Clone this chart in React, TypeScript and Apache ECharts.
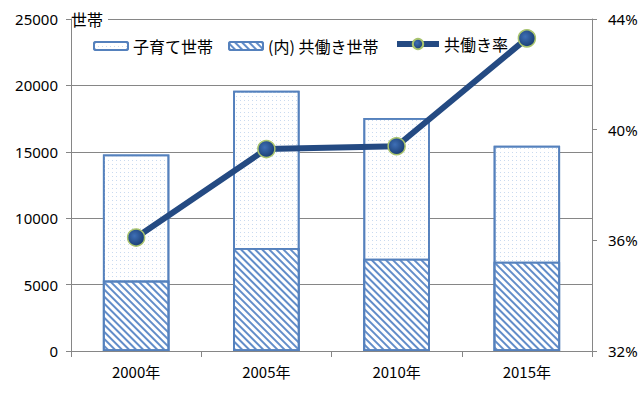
import React, { useEffect, useRef } from "react";
import * as echarts from "echarts";

const categories = ["2000年", "2005年", "2010年", "2015年"];
const childHouseholds = [14800, 19600, 17550, 15450];
const dualIncome = [5300, 7760, 6950, 6720];
const dualRate = [36.1, 39.3, 39.4, 43.3];
const leftTicks = { min: 0, max: 25000, interval: 5000 };
const rightTicks = { min: 32, max: 44, interval: 4 };

const FONT = "'Noto Sans CJK JP', 'Noto Sans', sans-serif";

export default function App() {
  const ref = useRef<HTMLDivElement>(null);
  useEffect(() => {
    document.body.style.margin = "0";
    const chart = echarts.init(ref.current!, undefined, { renderer: "svg" });
    chart.setOption({
      animation: false,
      textStyle: { fontFamily: FONT },
      grid: { left: 71, right: 50, top: 19, bottom: 44 },
      legend: [
        {
          left: 88,
          top: 33,
          itemWidth: 34,
          itemHeight: 8,
          itemGap: 15,
          textStyle: { fontSize: 16, color: "#000", fontFamily: FONT },
          data: [{ name: "子育て世帯" }, { name: "(内) 共働き世帯" }],
        },
        {
          left: 389,
          top: 31,
          itemWidth: 42,
          itemHeight: 13,
          lineStyle: { width: 6 },
          textStyle: { fontSize: 16, color: "#000", fontFamily: FONT },
          data: [{ name: "共働き率" }],
        },
      ],
      xAxis: {
        type: "category",
        data: categories,
        boundaryGap: true,
        axisLine: { lineStyle: { color: "#868686", width: 1 } },
        axisTick: { show: true, length: 6, lineStyle: { color: "#868686" } },
        axisLabel: { color: "#000", fontSize: 15, margin: 13, fontFamily: FONT },
      },
      yAxis: [
        {
          type: "value",
          min: leftTicks.min,
          max: leftTicks.max,
          interval: leftTicks.interval,
          name: "世帯",
          nameLocation: "end",
          nameGap: 0,
          nameTextStyle: {
            fontSize: 16,
            color: "#000",
            align: "left",
            verticalAlign: "middle",
            backgroundColor: "#fff",
            padding: [2, 5, 2, 0],
            fontFamily: FONT,
          },
          axisLine: { show: true, lineStyle: { color: "#868686", width: 1 } },
          axisTick: { show: true, length: 5, lineStyle: { color: "#868686" } },
          axisLabel: {
            color: "#000",
            fontSize: 15,
            margin: 13,
            formatter: (v: number) => String(v),
            fontFamily: "'Noto Sans', sans-serif",
          },
          splitLine: { show: true, lineStyle: { color: "#868686", width: 1 } },
        },
        {
          type: "value",
          position: "right",
          min: rightTicks.min,
          max: rightTicks.max,
          interval: rightTicks.interval,
          axisLine: { show: true, lineStyle: { color: "#868686", width: 1 } },
          axisTick: { show: true, length: 5, lineStyle: { color: "#868686" } },
          axisLabel: {
            color: "#000",
            fontSize: 15,
            margin: 16,
            formatter: "{value}%",
            fontFamily: "'Noto Sans', sans-serif",
          },
          splitLine: { show: false },
        },
      ],
      series: [
        {
          name: "子育て世帯",
          type: "bar",
          data: childHouseholds,
          barWidth: "51%",
          barGap: "-100%",
          z: 2,
          itemStyle: {
            color: "#ffffff",
            borderColor: "#5581bd",
            borderWidth: 1.8,
            decal: {
              symbol: "rect",
              symbolSize: 1,
              color: "#c9daf0",
              backgroundColor: "#ffffff",
              dashArrayX: [1, 3],
              dashArrayY: [1, 3],
              rotation: 0,
            },
          },
        },
        {
          name: "(内) 共働き世帯",
          type: "bar",
          data: dualIncome,
          barWidth: "51%",
          barGap: "-100%",
          z: 3,
          itemStyle: {
            color: "#ffffff",
            borderColor: "#5581bd",
            borderWidth: 1.8,
            decal: {
              symbol: "rect",
              symbolSize: 1,
              color: "#628dc9",
              backgroundColor: "#ffffff",
              dashArrayX: [1, 0],
              dashArrayY: [2, 3],
              rotation: Math.PI / 4,
            },
          },
        },
        {
          name: "共働き率",
          type: "line",
          yAxisIndex: 1,
          data: dualRate,
          z: 5,
          symbol: "circle",
          symbolSize: 17,
          lineStyle: { color: "#244a82", width: 6 },
          itemStyle: {
            color: {
              type: "radial",
              x: 0.4,
              y: 0.4,
              r: 0.6,
              colorStops: [
                { offset: 0, color: "#3e6fb6" },
                { offset: 1, color: "#1b3f74" },
              ],
            },
            borderColor: "#a9c46e",
            borderWidth: 1.5,
          },
        },
      ],
    });
    return () => chart.dispose();
  }, []);
  return <div ref={ref} style={{ width: 642, height: 395 }} />;
}
